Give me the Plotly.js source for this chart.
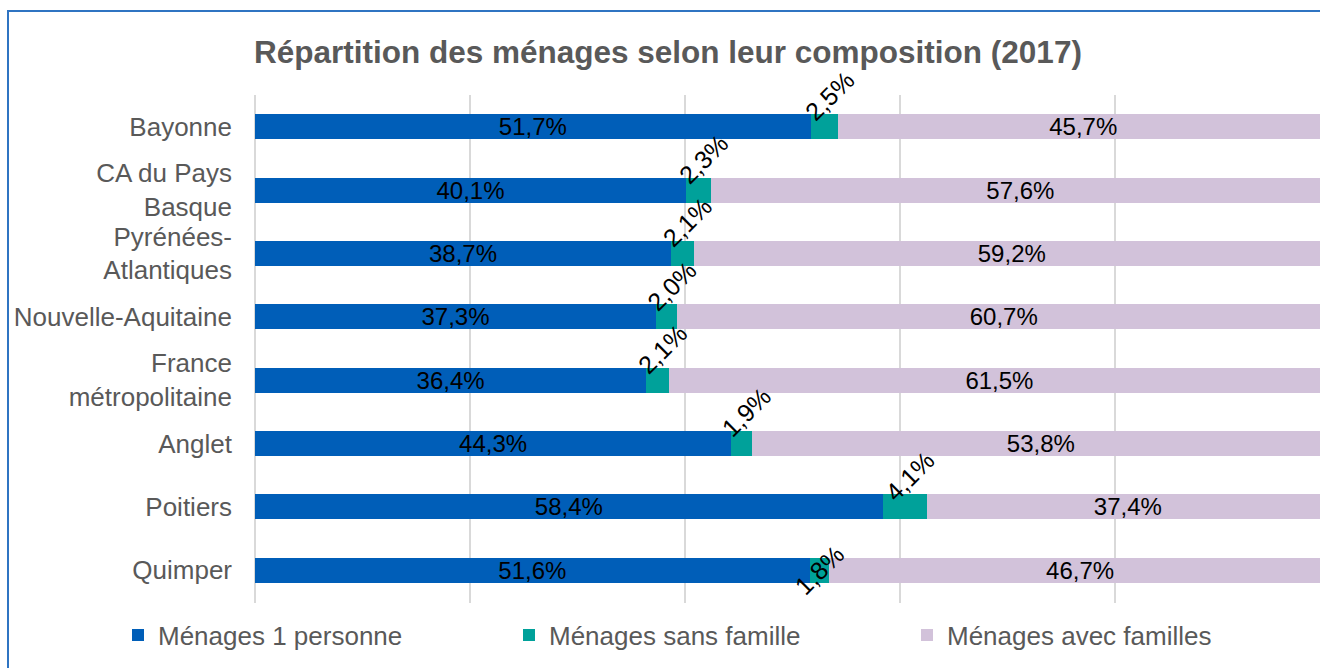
<!DOCTYPE html>
<html>
<head>
<meta charset="utf-8">
<script src="https://cdn.plot.ly/plotly-3.0.1.min.js"></script>
<style>
  html, body { margin: 0; padding: 0; background: #ffffff; overflow: hidden; }
  #wrap { position: relative; width: 1320px; height: 668px; overflow: hidden; }
  #chart { width: 1320px; height: 668px; }
  #frame { position: absolute; left: 7px; top: 10px; width: 1400px; height: 800px;
           border-left: 2px solid #2F74C2; border-top: 2px solid #2F74C2;
           pointer-events: none; box-sizing: border-box; }
</style>
</head>
<body>
<div id="wrap">
  <div id="chart"></div>
  <div id="frame"></div>
</div>
<script>
// ---- Data ----
const categories = [
  "Bayonne",
  "CA du Pays<br>Basque",
  "Pyrénées-<br>Atlantiques",
  "Nouvelle-Aquitaine",
  "France<br>métropolitaine",
  "Anglet",
  "Poitiers",
  "Quimper"
];
const menages1Personne = [51.7, 40.1, 38.7, 37.3, 36.4, 44.3, 58.4, 51.6];
const menagesSansFamille = [2.5, 2.3, 2.1, 2.0, 2.1, 1.9, 4.1, 1.8];
const menagesAvecFamilles = [45.7, 57.6, 59.2, 60.7, 61.5, 53.8, 37.4, 46.7];
const seriesNames = ["Ménages 1 personne", "Ménages sans famille", "Ménages avec familles"];

// ---- Helpers ----
const fmt = v => v.toFixed(1).replace(".", ",") + "%";
const FONT = "Arial, 'Liberation Sans', sans-serif";
const GREY = "#595959";
const colors = ["#005EB8", "#00A19A", "#D2C2DA"];

const traces = [
  {
    type: "bar", orientation: "h", name: seriesNames[0],
    y: categories, x: menages1Personne.map(v => v / 100),
    text: menages1Personne.map(fmt), texttemplate: "%{text}",
    textposition: "inside", insidetextanchor: "middle", constraintext: "none",
    textfont: { family: FONT, size: 24, color: "#000000" },
    marker: { color: colors[0] }, legend: "legend", hoverinfo: "skip"
  },
  {
    type: "bar", orientation: "h", name: seriesNames[1],
    y: categories, x: menagesSansFamille.map(v => v / 100),
    textposition: "none",
    marker: { color: colors[1] }, legend: "legend2", hoverinfo: "skip"
  },
  {
    type: "bar", orientation: "h", name: seriesNames[2],
    y: categories, x: menagesAvecFamilles.map(v => v / 100),
    text: menagesAvecFamilles.map(fmt), texttemplate: "%{text}",
    textposition: "inside", insidetextanchor: "middle", constraintext: "none",
    textfont: { family: FONT, size: 24, color: "#000000" },
    marker: { color: colors[2] }, legend: "legend3", hoverinfo: "skip"
  }
];

// rotated labels for the thin middle segment
const annotations = categories.map((c, i) => {
  const last = i === categories.length - 1;
  return {
    x: (menages1Personne[i] + menagesSansFamille[i] / 2) / 100,
    y: c, xref: "x", yref: "y",
    text: fmt(menagesSansFamille[i]),
    showarrow: false, textangle: -45,
    xanchor: "center", yanchor: "middle",
    xshift: last ? 0 : 5, yshift: last ? 0 : 31,
    font: { family: FONT, size: 25, color: "#000000" }
  };
});

const legendFont = { family: FONT, size: 26, color: GREY };
const legendBase = { orientation: "h", yanchor: "middle", xanchor: "left", y: -0.063,
  font: legendFont, bgcolor: "rgba(0,0,0,0)", borderwidth: 0 };

const layout = {
  width: 1320, height: 668,
  margin: { l: 255, r: 0, t: 95, b: 65, pad: 0 },
  paper_bgcolor: "#ffffff", plot_bgcolor: "#ffffff",
  barmode: "stack", bargap: 0.606,
  title: {
    text: "<b>Répartition des ménages selon leur composition (2017)</b>",
    font: { family: FONT, size: 31.5, color: GREY },
    xref: "container", x: 0.506, xanchor: "center",
    yref: "container", y: 1 - 52 / 668, yanchor: "middle"
  },
  xaxis: {
    range: [0, 1065 / 1075], tick0: 0, dtick: 0.2,
    showticklabels: false, ticks: "",
    showgrid: true, gridcolor: "#D9D9D9", gridwidth: 2,
    zeroline: true, zerolinecolor: "#D9D9D9", zerolinewidth: 2,
    showline: false, fixedrange: true
  },
  yaxis: {
    autorange: "reversed", type: "category",
    ticks: "", ticklabelstandoff: 22,
    tickfont: { family: FONT, size: 26, color: GREY },
    showgrid: false, zeroline: false, showline: false, fixedrange: true
  },
  showlegend: true,
  legend: Object.assign({}, legendBase, { x: (118 - 255) / 1065 }),
  legend2: Object.assign({}, legendBase, { x: (509 - 255) / 1065 }),
  legend3: Object.assign({}, legendBase, { x: (907 - 255) / 1065 }),
  annotations: annotations
};

Plotly.newPlot("chart", traces, layout, { displayModeBar: false, staticPlot: true });
</script>
</body>
</html>
